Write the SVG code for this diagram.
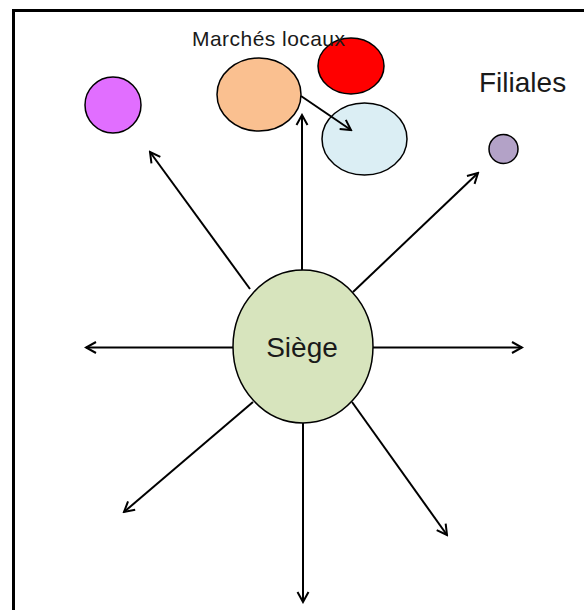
<svg xmlns="http://www.w3.org/2000/svg" width="584" height="610" viewBox="0 0 584 610">
<style>
.node{stroke:#000;stroke-width:1.5}
.lbl{font-family:"Liberation Sans",Arial,sans-serif;fill:#1a1a1a}
.conn line{stroke:#000;stroke-width:2;fill:none;marker-end:url(#arr)}
</style>
<defs>
<marker id="arr" markerUnits="userSpaceOnUse" markerWidth="14" markerHeight="14" viewBox="0 0 14 14" refX="12" refY="7" orient="auto">
<path d="M2,1.5 L12,7 L2,12.5" fill="none" stroke="#000" stroke-width="2"/>
</marker>
</defs>
<rect x="0" y="0" width="584" height="610" fill="#fff"/>
<rect x="13.5" y="10.5" width="620" height="700" fill="none" stroke="#000" stroke-width="3"/>
<g id="siege"><ellipse class="node" cx="303" cy="346.5" rx="70" ry="76.5" fill="#D7E4BD"/><text class="lbl" x="302" y="357" font-size="28" text-anchor="middle">Siège</text></g>
<g id="filiale-violette"><ellipse class="node" cx="113" cy="105" rx="28" ry="28" fill="#E16EFF"/></g>
<g id="marche-orange"><ellipse class="node" cx="259" cy="94.5" rx="42" ry="36.5" fill="#FAC090"/></g>
<g id="marche-rouge"><ellipse class="node" cx="351" cy="66" rx="33" ry="28" fill="#FF0000"/></g>
<g id="marche-bleu"><ellipse class="node" cx="364.5" cy="139" rx="42.5" ry="36" fill="#DBEEF4"/></g>
<g id="filiale-lilas"><ellipse class="node" cx="503.5" cy="149" rx="14.5" ry="14.5" fill="#B3A2C7"/></g>
<g id="label-marches"><text class="lbl" x="192" y="46" font-size="21" textLength="153" lengthAdjust="spacing">Marchés locaux</text></g>
<g id="label-filiales"><text class="lbl" x="479" y="92" font-size="28">Filiales</text></g>
<g id="connectors" class="conn">
<line x1="250" y1="289" x2="150" y2="152"/>
<line x1="302" y1="270" x2="302" y2="115"/>
<line x1="353" y1="292" x2="478" y2="173"/>
<line x1="233" y1="347.5" x2="86" y2="347.5"/>
<line x1="373" y1="347.5" x2="522" y2="347.5"/>
<line x1="253" y1="402" x2="124" y2="512"/>
<line x1="303" y1="423" x2="303" y2="602"/>
<line x1="352" y1="402" x2="447" y2="535"/>
<line x1="301" y1="96" x2="351" y2="130"/>
</g>
</svg>
